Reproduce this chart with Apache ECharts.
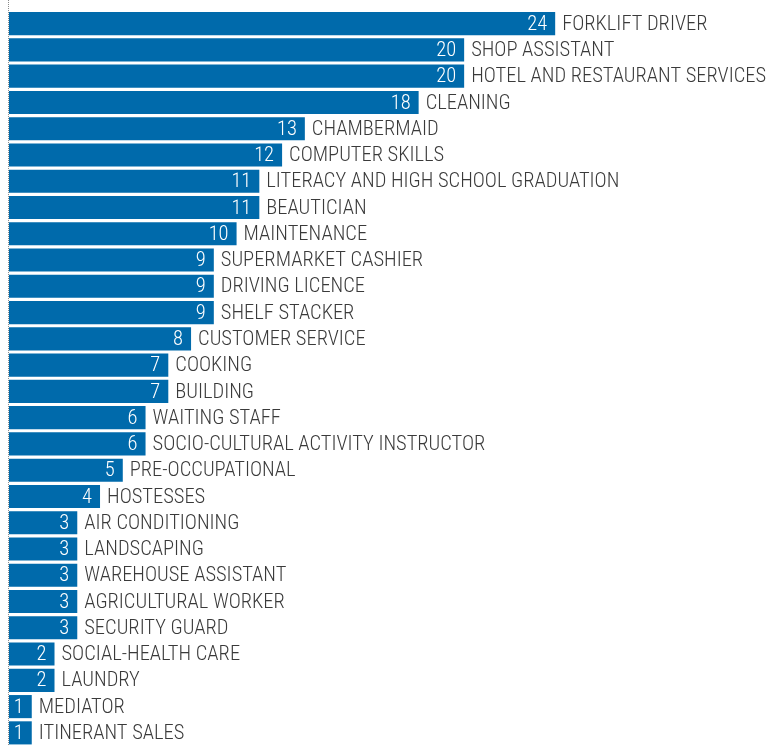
<!DOCTYPE html>
<html>
<head>
<meta charset="utf-8">
<script src="https://cdn.jsdelivr.net/npm/echarts@6/dist/echarts.min.js"></script>
<style>
  html, body { margin: 0; padding: 0; background: #fff; }
  #chart { width: 770px; height: 746px; }
</style>
</head>
<body>
<div id="chart"></div>
<script>
// categories, top to bottom
var categories = [
  'FORKLIFT DRIVER', 'SHOP ASSISTANT', 'HOTEL AND RESTAURANT SERVICES', 'CLEANING',
  'CHAMBERMAID', 'COMPUTER SKILLS', 'LITERACY AND HIGH SCHOOL GRADUATION', 'BEAUTICIAN',
  'MAINTENANCE', 'SUPERMARKET CASHIER', 'DRIVING LICENCE', 'SHELF STACKER',
  'CUSTOMER SERVICE', 'COOKING', 'BUILDING', 'WAITING STAFF',
  'SOCIO-CULTURAL ACTIVITY INSTRUCTOR', 'PRE-OCCUPATIONAL', 'HOSTESSES', 'AIR CONDITIONING',
  'LANDSCAPING', 'WAREHOUSE ASSISTANT', 'AGRICULTURAL WORKER', 'SECURITY GUARD',
  'SOCIAL-HEALTH CARE', 'LAUNDRY', 'MEDIATOR', 'ITINERANT SALES'
];
var counts = [
  24, 20, 20, 18,
  13, 12, 11, 11,
  10, 9, 9, 9,
  8, 7, 7, 6,
  6, 5, 4, 3,
  3, 3, 3, 3,
  2, 2, 1, 1
];

var labelFont = '"Roboto Condensed", "DejaVu Sans Condensed", sans-serif';
var chart = echarts.init(document.getElementById('chart'));

var option = {
  animation: false,
  // last row is cut by the bottom edge, so the grid runs past it
  grid: { left: 9, top: 10.5, width: 751, height: 740 },
  xAxis: {
    type: 'value',
    min: 0,
    max: 33,
    show: false
  },
  yAxis: {
    type: 'category',
    inverse: true,
    data: categories,
    axisLine: { show: false },
    axisTick: { show: false },
    axisLabel: { show: false }
  },
  // dotted baseline on the left, runs the full height
  graphic: [{
    type: 'line',
    shape: { x1: 8.5, y1: 0, x2: 8.5, y2: 746 },
    style: { stroke: '#8a8a8a', lineWidth: 1, lineDash: [1, 1] },
    z: 10
  }],
  series: [
    {
      type: 'bar',
      data: counts,
      barCategoryGap: '12%',
      itemStyle: { color: '#006aab' },
      label: {
        show: true,
        position: 'right',
        distance: 7,
        offset: [0, 1],
        formatter: function (p) { return p.name; },
        color: '#3a3a3a',
        fontFamily: labelFont,
        fontWeight: 300,
        fontSize: 20.5
      }
    },
    {
      // same bars again, only to carry the value inside the bar end
      type: 'bar',
      data: counts,
      barGap: '-100%',
      barCategoryGap: '12%',
      itemStyle: { color: 'transparent' },
      label: {
        show: true,
        position: 'insideRight',
        distance: 8,
        offset: [0, 1],
        color: '#ffffff',
        fontFamily: labelFont,
        fontWeight: 300,
        fontSize: 20.5
      }
    }
  ]
};

chart.setOption(option);
</script>
</body>
</html>
